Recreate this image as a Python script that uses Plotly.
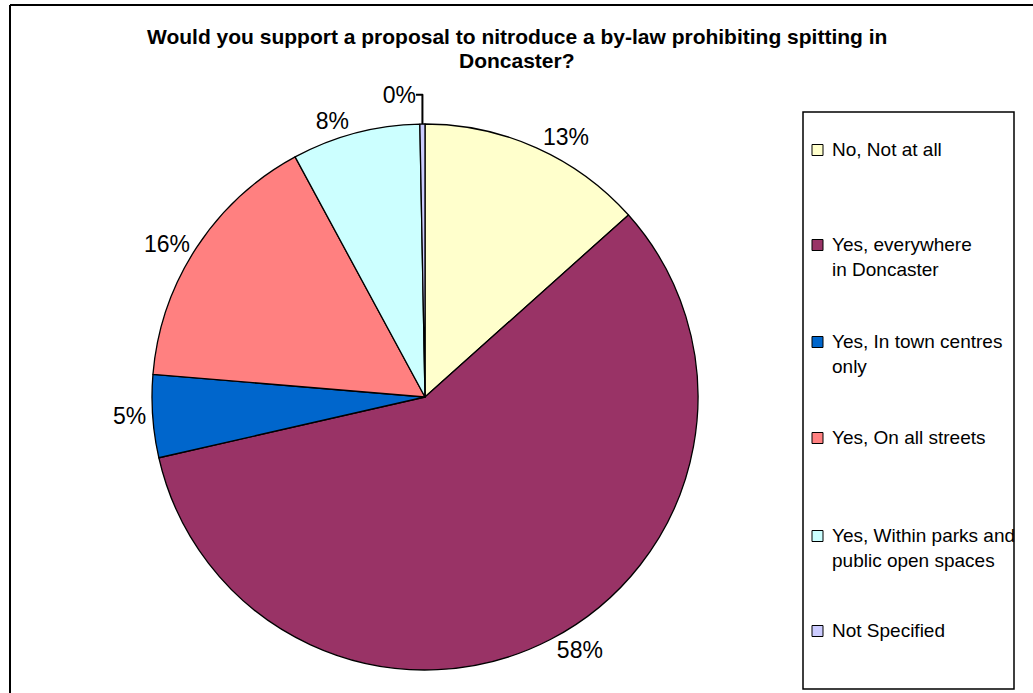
import plotly.graph_objects as go

W, H = 1033, 693

categories = [
    "No, Not at all",
    "Yes, everywhere in Doncaster",
    "Yes, In town centres only",
    "Yes, On all streets",
    "Yes, Within parks and public open spaces",
    "Not Specified",
]
legend_labels = [
    "No, Not at all",
    "Yes, everywhere<br>in Doncaster",
    "Yes, In town centres<br>only",
    "Yes, On all streets",
    "Yes, Within parks and<br>public open spaces",
    "Not Specified",
]
values = [13.4, 58.1, 4.9, 15.8, 7.6, 0.3]
colors = ["#FFFFCC", "#993366", "#0066CC", "#FF8080", "#CCFFFF", "#CCCCFF"]

title_lines = [
    "Would you support a proposal to nitroduce a by-law prohibiting spitting in",
    "Doncaster?",
]

FONT = "Arial, Liberation Sans, sans-serif"


def px_x(p):
    return p / W


def px_y(p):
    return 1 - p / H


fig = go.Figure()
fig.add_trace(go.Pie(
    labels=categories,
    values=values,
    sort=False,
    direction="clockwise",
    rotation=0,
    marker=dict(colors=colors, line=dict(color="black", width=1.3)),
    textposition="outside",
    texttemplate="%{percent:.0%}",
    textfont=dict(family=FONT, size=23, color="black"),
    showlegend=False,
    domain=dict(x=[px_x(152), px_x(698)], y=[px_y(670), px_y(124)]),
    hoverinfo="label+percent",
))

shapes = []
annotations = []

# outer chart frame (left and top edges visible)
shapes.append(dict(type="line", xref="paper", yref="paper",
                   x0=px_x(10), x1=px_x(10), y0=px_y(5), y1=px_y(720),
                   line=dict(color="black", width=2)))
shapes.append(dict(type="line", xref="paper", yref="paper",
                   x0=px_x(10), x1=px_x(1060), y0=px_y(5), y1=px_y(5),
                   line=dict(color="black", width=2)))

# legend box
shapes.append(dict(type="rect", xref="paper", yref="paper",
                   x0=px_x(803), x1=px_x(1014), y0=px_y(689), y1=px_y(112),
                   line=dict(color="black", width=1.5), fillcolor="rgba(0,0,0,0)"))

item_y = [150, 245, 342, 438, 536, 631]
for lab, col, yc in zip(legend_labels, colors, item_y):
    shapes.append(dict(type="rect", xref="paper", yref="paper",
                       x0=px_x(812), x1=px_x(823), y0=px_y(yc + 5.5), y1=px_y(yc - 5.5),
                       line=dict(color="black", width=1), fillcolor=col))
    annotations.append(dict(xref="paper", yref="paper", x=px_x(830), y=px_y(yc - 13),
                            xanchor="left", yanchor="top", align="left",
                            text=lab, showarrow=False,
                            font=dict(family=FONT, size=19, color="black")))

# title (two lines)
for line, yc in zip(title_lines, [36, 61]):
    annotations.append(dict(xref="paper", yref="paper", x=0.5, y=px_y(yc),
                            xanchor="center", yanchor="middle",
                            text="<b>" + line + "</b>", showarrow=False,
                            font=dict(family=FONT, size=21, color="black")))

fig.update_layout(
    width=W, height=H,
    margin=dict(l=0, r=0, t=0, b=0),
    paper_bgcolor="white",
    plot_bgcolor="white",
    shapes=shapes,
    annotations=annotations,
)

fig.write_html("out.html", config={"displayModeBar": False},
               post_script="document.body.style.margin='0';")
